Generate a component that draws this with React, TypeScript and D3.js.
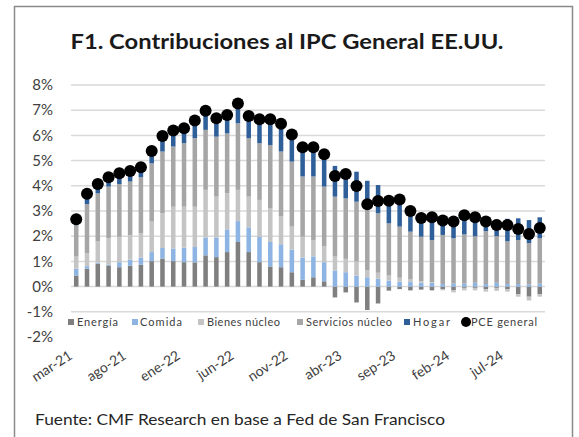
import React from "react";
import * as d3 from "d3";

// ---------- data ----------
const months = [
  "mar-21","abr-21","may-21","jun-21","jul-21","ago-21","sep-21","oct-21","nov-21","dic-21",
  "ene-22","feb-22","mar-22","abr-22","may-22","jun-22","jul-22","ago-22","sep-22","oct-22",
  "nov-22","dic-22","ene-23","feb-23","mar-23","abr-23","may-23","jun-23","jul-23","ago-23",
  "sep-23","oct-23","nov-23","dic-23","ene-24","feb-24","mar-24","abr-24","may-24","jun-24",
  "jul-24","ago-24","sep-24","oct-24",
];
const tickLabels = ["mar-21","ago-21","ene-22","jun-22","nov-22","abr-23","sep-23","feb-24","jul-24"];
const yTicks = [-2, -1, 0, 1, 2, 3, 4, 5, 6, 7, 8];

const energia = [
  0.44,0.71,0.91,0.84,0.77,0.83,0.87,1.01,1.11,1.01,
  0.97,0.96,1.24,1.17,1.37,1.77,1.37,0.97,0.80,0.77,
  0.57,0.27,0.37,0.21,-0.43,-0.23,-0.63,-0.93,-0.67,-0.16,
  -0.10,-0.15,-0.12,-0.15,-0.10,-0.15,-0.05,-0.05,-0.10,-0.05,
  -0.10,-0.30,-0.40,-0.30,
];
const comida = [
  0.27,0.10,0.04,0.04,0.20,0.24,0.28,0.36,0.42,0.50,
  0.58,0.61,0.71,0.78,0.90,0.83,0.98,1.00,0.97,0.91,
  0.90,0.88,0.83,0.76,0.64,0.57,0.44,0.37,0.31,0.24,
  0.20,0.18,0.15,0.15,0.10,0.12,0.12,0.15,0.10,0.15,
  0.10,0.10,0.08,0.12,
];
const bienes = [
  0.48,0.51,0.84,1.04,1.01,0.98,0.96,1.21,1.38,1.66,
  1.62,1.60,1.89,1.62,1.43,1.24,1.22,1.47,1.33,1.10,
  0.91,0.83,0.65,0.63,0.55,0.53,0.56,0.29,0.24,0.20,
  0.15,0.10,0.05,0.03,-0.05,-0.08,-0.10,-0.10,-0.10,-0.12,
  -0.10,-0.10,-0.15,-0.10,
];
const servicios = [
  1.25,1.95,1.91,2.05,2.09,2.12,2.23,2.31,2.45,2.39,
  2.52,2.72,2.38,2.38,2.38,2.64,2.32,2.25,2.52,2.58,
  2.58,2.39,2.52,2.37,2.38,2.40,2.37,2.38,2.36,2.07,
  2.03,1.90,1.78,1.67,1.95,1.80,1.95,1.85,2.10,1.85,
  1.70,1.75,1.65,1.80,
];
const hogar = [
  0.20,0.40,0.35,0.35,0.40,0.40,0.38,0.47,0.60,0.60,
  0.57,0.68,0.74,0.71,0.70,0.77,0.86,0.93,1.00,1.08,
  1.06,1.15,1.15,1.27,1.22,1.16,1.19,1.16,1.12,1.02,
  1.16,0.91,0.88,1.04,0.70,0.85,0.92,0.89,0.58,0.66,
  0.89,0.86,0.91,0.83,
];
const pce = [
  2.67,3.68,4.07,4.34,4.50,4.59,4.74,5.38,5.98,6.19,
  6.28,6.59,6.98,6.68,6.81,7.27,6.77,6.64,6.64,6.46,
  6.04,5.53,5.53,5.25,4.39,4.47,3.99,3.27,3.40,3.41,
  3.46,3.00,2.72,2.75,2.62,2.58,2.83,2.75,2.58,2.44,
  2.44,2.29,2.09,2.33,
];

const seriesNames = ["Energía", "Comida", "Bienes núcleo", "Servicios núcleo", "Hogar"];
const seriesValues = [energia, comida, bienes, servicios, hogar];
const seriesColors = ["#7f7f7f", "#8db4e2", "#c4c4c4", "#a6a6a6", "#2f5f99"];

// ---------- layout ----------
const W = 579, H = 437;
const plot = { left: 71, right: 545, top: 85, bottom: 337 };
const legendLayout = [
  { sw: 71, tx: 77, tw: 41 },
  { sw: 135, tx: 140, tw: 42 },
  { sw: 201, tx: 207, tw: 73 },
  { sw: 300, tx: 306, tw: 86 },
  { sw: 407, tx: 413, tw: 37 },
];
const legendY = 322;

export default function App() {
  const x = d3.scaleBand<string>()
    .domain(months)
    .range([plot.left, plot.right])
    .paddingInner(0.58)
    .paddingOuter(0.275);
  const y = d3.scaleLinear().domain([-2, 8]).range([plot.bottom, plot.top]);

  const rows = months.map((m, i) => {
    const r: any = { month: m };
    seriesNames.forEach((k, j) => (r[k] = seriesValues[j][i]));
    return r;
  });
  const stack = d3.stack<any>().keys(seriesNames).offset(d3.stackOffsetDiverging);
  const layers = stack(rows);
  const bw = x.bandwidth();
  const cx = (m: string) => (x(m) as number) + bw / 2;
  const font = "Lato, 'Open Sans', sans-serif";

  return (
    <svg width={W} height={H} style={{ position: "absolute", left: 0, top: 0, background: "#fff" }}>
      <rect x={14.5} y={6.5} width={558} height={440} fill="#fff" stroke="#8a8a8a" strokeWidth={1.5} />
      <text x={287} y={49} textAnchor="middle" fontFamily={font} fontWeight={700} fontSize={21}
        fill="#1a1a1a" textLength={433} lengthAdjust="spacingAndGlyphs">
        F1. Contribuciones al IPC General EE.UU.
      </text>

      {yTicks.filter((t) => t > -2).map((t) => (
        <line key={"g" + t} x1={plot.left} x2={plot.right} y1={y(t)} y2={y(t)} stroke="#d9d9d9" strokeWidth={1.5} />
      ))}
      {yTicks.map((t) => (
        <text key={"yl" + t} x={53} y={y(t)} dy="0.35em" textAnchor="end" fontFamily={font} fontSize={15} fill="#404040">
          {t + "%"}
        </text>
      ))}

      {layers.map((layer, j) => (
        <g key={seriesNames[j]} fill={seriesColors[j]}>
          {layer.map((d, i) => (
            <rect key={i} x={x(months[i])} width={bw} y={y(Math.max(d[0], d[1]))}
              height={Math.abs(y(d[0]) - y(d[1]))} />
          ))}
        </g>
      ))}

      {pce.map((v, i) => (
        <circle key={"p" + i} cx={cx(months[i])} cy={y(v)} r={6} fill="#000" />
      ))}

      {tickLabels.map((m) => (
        <text key={"xt" + m} transform={`translate(${cx(m) - 3},${358}) rotate(-33)`} textAnchor="end"
          fontFamily={font} fontSize={14} fill="#404040">
          {m}
        </text>
      ))}

      {seriesNames.map((n, j) => (
        <g key={"lg" + n}>
          <rect x={legendLayout[j].sw - 3} y={legendY - 3} width={6} height={6} fill={seriesColors[j]} />
          <text x={legendLayout[j].tx} y={legendY} dy="0.35em" fontFamily={font} fontSize={11} fill="#404040"
            textLength={legendLayout[j].tw} lengthAdjust="spacing">
            {n}
          </text>
        </g>
      ))}
      <circle cx={466} cy={legendY} r={5} fill="#000" />
      <text x={471} y={legendY} dy="0.35em" fontFamily={font} fontSize={11} fill="#404040" textLength={66} lengthAdjust="spacing">
        PCE general
      </text>

      <text x={35} y={425} fontFamily={font} fontSize={15} fill="#262626" textLength={410} lengthAdjust="spacingAndGlyphs">
        Fuente: CMF Research en base a Fed de San Francisco
      </text>
    </svg>
  );
}
